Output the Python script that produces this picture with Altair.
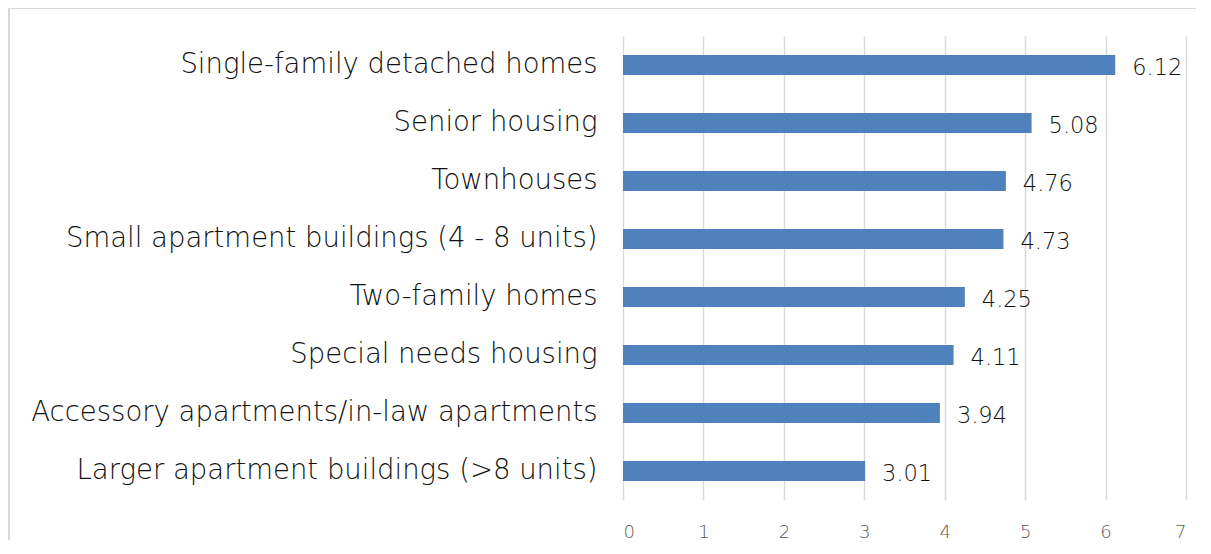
import altair as alt
import pandas as pd

categories = [
    "Single-family detached homes",
    "Senior housing",
    "Townhouses",
    "Small apartment buildings (4 - 8 units)",
    "Two-family homes",
    "Special needs housing",
    "Accessory apartments/in-law apartments",
    "Larger apartment buildings (>8 units)",
]
values = [6.12, 5.08, 4.76, 4.73, 4.25, 4.11, 3.94, 3.01]
x_ticks = [0, 1, 2, 3, 4, 5, 6, 7]

df = pd.DataFrame({"category": categories, "value": values})
df["label"] = [f"{v:.2f}" for v in values]

FONT = "DejaVu Sans"

y_enc = alt.Y(
    "category:N",
    sort=categories,
    scale=alt.Scale(paddingInner=0.655, paddingOuter=0.3275),
    axis=alt.Axis(
        title=None, ticks=False, domain=False, grid=False,
        labelFontSize=27.5, labelColor="#111111", labelPadding=26,
        labelLimit=700, labelFont=FONT, labelFontWeight=300,
    ),
)
x_enc = alt.X(
    "value:Q",
    scale=alt.Scale(domain=[0, 7], nice=False),
    axis=alt.Axis(
        title=None, values=x_ticks, format="d", ticks=False, domain=False,
        grid=True, gridColor="#d9d9d9", gridWidth=1.5,
        labelFontSize=18, labelColor="#595959", labelPadding=23,
        labelFont=FONT, labelFontWeight=300,
    ),
)

base = alt.Chart(df)

bars = base.mark_bar(color="#4f81bd").encode(x=x_enc, y=y_enc)

texts = base.mark_text(
    align="left", baseline="middle", dx=17, dy=3,
    fontSize=22.5, color="#111111", font=FONT, fontWeight=300,
).encode(
    x="value:Q",
    y=alt.Y("category:N", sort=categories),
    text="label:N",
)

frame_top = alt.Chart(df).mark_rule(color="#d9d9d9", strokeWidth=2).encode(
    x=alt.value(-614), x2=alt.value(2000), y=alt.value(-28),
)
frame_left = alt.Chart(df).mark_rule(color="#d9d9d9", strokeWidth=2).encode(
    x=alt.value(-614), y=alt.value(-28), y2=alt.value(2000),
)

chart = (
    alt.layer(frame_top, frame_left, bars, texts)
    .properties(
        width=563, height=464,
        autosize=alt.AutoSizeParams(type="none"),
        padding={"left": 615, "top": 28, "right": 10, "bottom": 40},
    )
    .configure(font=FONT)
    .configure_view(stroke="transparent", strokeWidth=0)
)

chart.save("out.html", embed_options={"renderer": "svg", "actions": False})
